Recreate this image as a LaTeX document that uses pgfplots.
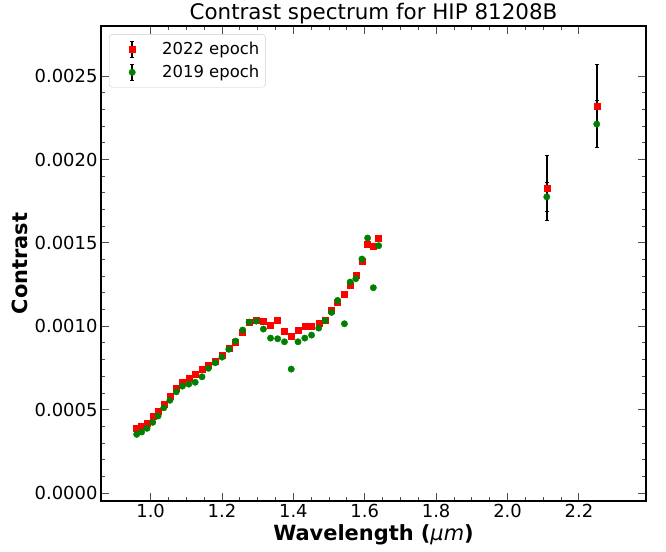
\documentclass[border=0pt]{standalone}
\usepackage{fontspec}
\setmainfont{DejaVu Sans}
\usepackage{pgfplots}
\pgfplotsset{compat=1.18}
\definecolor{mplgreen}{RGB}{0,128,0}

\pgfplotstableread{
lam   c         e
0.961 0.000391  0.000008
0.975 0.000402  0.000008
0.990 0.000418  0.000008
1.006 0.000460  0.000008
1.021 0.000492  0.000008
1.037 0.000532  0.000008
1.054 0.000582  0.000008
1.072 0.000631  0.000008
1.089 0.000665  0.000008
1.107 0.000691  0.000008
1.125 0.000712  0.000008
1.144 0.000742  0.000008
1.162 0.000767  0.000008
1.181 0.000791  0.000008
1.200 0.000827  0.000008
1.219 0.000868  0.000008
1.238 0.000907  0.000008
1.258 0.000967  0.000008
1.276 0.001025  0.000008
1.296 0.001039  0.000008
1.316 0.001031  0.000008
1.336 0.001007  0.000008
1.356 0.001035  0.000008
1.375 0.000971  0.000015
1.394 0.000939  0.000010
1.413 0.000979  0.000008
1.432 0.000999  0.000010
1.451 0.000999  0.000008
1.471 0.001021  0.000008
1.489 0.001035  0.000008
1.507 0.001095  0.000008
1.524 0.001145  0.000008
1.543 0.001193  0.000008
1.559 0.001245  0.000008
1.575 0.001305  0.000008
1.592 0.001391  0.000010
1.608 0.001495  0.000010
1.624 0.001481  0.000008
1.639 0.001525  0.000008
2.110 0.001829  0.000197
2.250 0.002319  0.000249
}\epochA

\pgfplotstableread{
lam   c         e
0.961 0.000352  0.000008
0.975 0.000366  0.000008
0.990 0.000388  0.000008
1.006 0.000424  0.000008
1.021 0.000462  0.000008
1.037 0.000511  0.000008
1.054 0.000556  0.000008
1.072 0.000607  0.000008
1.089 0.000641  0.000008
1.107 0.000653  0.000008
1.125 0.000664  0.000008
1.144 0.000697  0.000008
1.162 0.000748  0.000008
1.181 0.000781  0.000008
1.200 0.000815  0.000008
1.219 0.000862  0.000008
1.238 0.000911  0.000008
1.258 0.000977  0.000008
1.276 0.001025  0.000008
1.296 0.001031  0.000008
1.316 0.000983  0.000008
1.336 0.000929  0.000008
1.356 0.000925  0.000008
1.375 0.000907  0.000008
1.394 0.000743  0.000008
1.413 0.000907  0.000008
1.432 0.000929  0.000008
1.451 0.000947  0.000008
1.471 0.000989  0.000008
1.489 0.001033  0.000008
1.507 0.001083  0.000008
1.524 0.001155  0.000008
1.543 0.001015  0.000008
1.559 0.001265  0.000008
1.575 0.001285  0.000008
1.592 0.001403  0.000008
1.608 0.001529  0.000008
1.624 0.001231  0.000008
1.639 0.001483  0.000008
2.110 0.001776  0.000087
2.250 0.002212  0.000140
}\epochB

\begin{document}
\begin{tikzpicture}
\begin{axis}[
    name=main,
    width=545bp, height=475bp,
    scale only axis,
    xmin=0.861, xmax=2.388,
    ymin=-0.000048, ymax=0.0028,
    axis line style={line width=1.8bp},
    tick align=inside,
    xtick pos=both, ytick pos=both,
    xticklabel pos=lower, yticklabel pos=left,
    xtick={1.0,1.2,1.4,1.6,1.8,2.0,2.2},
    ytick={0,0.0005,0.001,0.0015,0.002,0.0025},
    minor x tick num=3,
    minor y tick num=4,
    major tick length=8bp, minor tick length=4bp,
    every tick/.style={black!70, line width=0.9bp},
    scaled y ticks=false,
    xticklabel style={/pgf/number format/.cd, fixed, fixed zerofill, precision=1},
    yticklabel style={/pgf/number format/.cd, fixed, fixed zerofill, precision=4},
    /pgf/number format/assume math mode=true,
    ticklabel style={font=\fontsize{18}{21}\selectfont},
    title={Contrast spectrum for HIP 81208B},
    title style={font=\fontsize{21.5}{25}\selectfont, yshift=-7.5bp},
    xlabel={\textbf{Wavelength (}{\itshape μm}\textbf{)}},
    ylabel={\textbf{Contrast}},
    label style={font=\fontsize{21}{24}\selectfont},
    xlabel style={yshift=0bp},
    legend style={at={(0.0147,0.983)}, anchor=north west, draw=black!20,
        rounded corners=3bp, font=\fontsize{16.5}{20}\selectfont,
        row sep=5bp, inner xsep=4bp, inner ysep=6bp},
    legend cell align=left,
    legend image code/.code={
        \path[draw=none] (0bp,0bp) -- (47bp,0bp);
        \draw[black, line width=1.5bp] (19bp,-8bp)--(19bp,8bp)
            (17bp,-8bp)--(21bp,-8bp) (17bp,8bp)--(21bp,8bp);
        \draw[#1, only marks] plot coordinates {(19bp,0bp)};
    },
]
\addplot[only marks, mark=square*, mark size=3bp, color=red,
    error bars/.cd, y dir=both, y explicit,
    error bar style={black, line width=1.6bp},
    error mark options={rotate=90, black, mark size=2bp, line width=1.1bp}]
    table[x=lam, y=c, y error=e] {\epochA};
\addlegendentry{2022 epoch}
\addplot[only marks, mark=*, mark size=3.2bp, color=mplgreen,
    error bars/.cd, y dir=both, y explicit,
    error bar style={black, line width=1.6bp},
    error mark options={rotate=90, black, mark size=2bp, line width=1.1bp}]
    table[x=lam, y=c, y error=e] {\epochB};
\addlegendentry{2019 epoch}
\end{axis}
\path ([xshift=-101bp,yshift=-50bp]main.south west);
\path ([xshift=20bp,yshift=25bp]main.north east);
\end{tikzpicture}
\end{document}
